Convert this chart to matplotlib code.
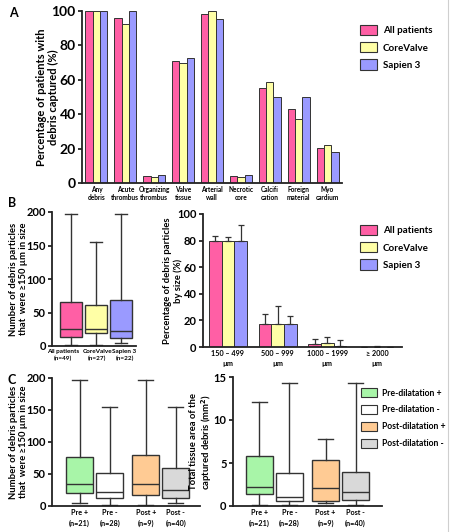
import matplotlib
matplotlib.use("Agg")
import matplotlib.pyplot as plt
import matplotlib.transforms as mtransforms
from matplotlib.patches import Patch
from matplotlib.lines import Line2D
import numpy as np

plt.rcParams['font.family'] = ['Lato', 'DejaVu Sans']
plt.rcParams['font.weight'] = 'bold'
plt.rcParams['axes.labelweight'] = 'bold'

# Panel A: debris type per valve group
groups = ['All patients', 'CoreValve', 'Sapien 3']
group_colors = ['#ff5fa5', '#ffffa6', '#9a9aff']
debris_types = ['Any\ndebris', 'Acute\nthrombus', 'Organizing\nthrombus', 'Valve\ntissue',
                'Arterial\nwall', 'Necrotic\ncore', 'Calcifi\ncation', 'Foreign\nmaterial',
                'Myo\ncardium']
pct_all = [100, 96, 4, 71, 98, 4, 55, 43, 20.5]
pct_cv = [100, 92.5, 3.5, 70, 100, 3.5, 59, 37, 22]
pct_s3 = [100, 100, 4.5, 72.5, 95.5, 4.5, 50, 50, 18]

# Panel B left: particles >=150 um per valve group (box stats)
b_labels = ['All patients\n(n=49)', 'CoreValve\n(n=27)', 'Sapien 3\n(n=22)']
b_low = [1, 1, 5]
b_q1 = [14, 20, 12]
b_med = [25, 26, 22]
b_q3 = [65, 61, 69]
b_high = [197, 155, 197]

# Panel B right: particle size distribution
size_bins = ['150 – 499\nµm', '500 – 999\nµm', '1000 – 1999\nµm', '≥ 2000\nµm']
size_all = [80, 17, 2.5, 0]
size_all_err = [3.5, 7.5, 3.5, 0]
size_cv = [80, 17, 3, 0.3]
size_cv_err = [3, 13.5, 4.5, 0.7]
size_s3 = [79.5, 17, 1, 0]
size_s3_err = [12, 6.5, 4.5, 0]

# Panel C: pre/post dilatation
dil_names = ['Pre-dilatation +', 'Pre-dilatation -', 'Post-dilatation +', 'Post-dilatation -']
dil_colors = ['#a8f5a8', '#ffffff', '#ffcb94', '#d9d9d9']
c_labels = ['Pre +\n(n=21)', 'Pre -\n(n=28)', 'Post +\n(n=9)', 'Post -\n(n=40)']
c_low = [5, 1, 1, 4]
c_q1 = [21, 12, 17, 12]
c_med = [34, 22, 34, 25]
c_q3 = [76, 51, 80, 60]
c_high = [197, 155, 197, 155]
area_low = [0.1, 0.1, 0.3, 0.1]
area_q1 = [1.4, 0.55, 0.55, 0.7]
area_med = [2.2, 1.0, 2.1, 1.6]
area_q3 = [5.8, 3.8, 5.3, 4.0]
area_high = [12.1, 14.3, 7.8, 14.3]

W, H = 450, 532
fig = plt.figure(figsize=(W / 100, H / 100), dpi=100)

EDGE = '#333333'


def px_axes(l, t, r, b):
    ax = fig.add_axes([l / W, 1 - b / H, (r - l) / W, (b - t) / H])
    ax.spines['top'].set_visible(False)
    ax.spines['right'].set_visible(False)
    for s in ('left', 'bottom'):
        ax.spines[s].set_linewidth(1.3)
        ax.spines[s].set_color('#222222')
    ax.tick_params(axis='x', length=0, pad=2)
    ax.tick_params(axis='y', length=3, width=1.1, pad=1.5)
    return ax


def boxes(ax, low, q1, med, q3, high, pos, colors, width):
    stats = [dict(whislo=a, q1=b, med=c, q3=d, whishi=e)
             for a, b, c, d, e in zip(low, q1, med, q3, high)]
    bp = ax.bxp(stats, positions=pos, widths=width, showfliers=False,
                patch_artist=True, capwidths=width * 0.55,
                boxprops=dict(edgecolor=EDGE, linewidth=1.0),
                medianprops=dict(color=EDGE, linewidth=1.0),
                whiskerprops=dict(color=EDGE, linewidth=1.0),
                capprops=dict(color=EDGE, linewidth=1.0))
    for patch, c in zip(bp['boxes'], colors):
        patch.set_facecolor(c)


# ---- A ----
axA = px_axes(82, 11, 342, 183)
x = np.arange(len(debris_types))
bw = 0.255
for i, (vals, c) in enumerate(zip([pct_all, pct_cv, pct_s3], group_colors)):
    axA.bar(x + (i - 1) * bw, vals, bw, color=c, edgecolor=EDGE, linewidth=0.7)
axA.set_xlim(-0.5, len(debris_types) - 0.5)
axA.set_ylim(0, 100)
axA.set_yticks([0, 20, 40, 60, 80, 100])
axA.set_xticks(x)
axA.set_xticklabels(debris_types, fontsize=4.7, linespacing=1.25)
axA.tick_params(axis='y', labelsize=10)
axA.set_ylabel('Percentage of patients with\ndebris captured (%)', fontsize=8,
               linespacing=1.1)
axA.yaxis.set_label_coords(-0.088, 0.5)
fig.legend([Patch(facecolor=c, edgecolor=EDGE, linewidth=0.8) for c in group_colors], groups,
           loc='upper left', bbox_to_anchor=(360 / W, 1 - 25 / H), frameon=False,
           fontsize=7, handlelength=1.75, handleheight=1.25, handletextpad=0.6,
           labelspacing=0.7, borderpad=0, borderaxespad=0)

# ---- B left ----
axB1 = px_axes(52, 212, 136, 346)
boxes(axB1, b_low, b_q1, b_med, b_q3, b_high, [1, 2, 3], group_colors, 0.9)
axB1.set_xlim(0.25, 3.6)
axB1.set_ylim(0, 200)
axB1.set_yticks([0, 50, 100, 150, 200])
axB1.set_xticks([1, 2, 3])
axB1.set_xticklabels(b_labels, fontsize=4.6, linespacing=1.5)
# labels in the reference sit slightly off the box centres
for lab, dx in zip(axB1.get_xticklabels(), [-8, 1.5, 3.5]):
    lab.set_transform(lab.get_transform() +
                      mtransforms.ScaledTranslation(dx / 100, 0, fig.dpi_scale_trans))
axB1.tick_params(axis='y', labelsize=8)
axB1.set_ylabel('Number of debris particles\nthat  were ≥150 µm in size', fontsize=6.8,
                linespacing=1.15)
axB1.yaxis.set_label_coords(-0.285, 0.5)

# ---- B right ----
axB2 = px_axes(203, 214, 402, 347)
xs = np.arange(len(size_bins))
bw2 = 0.255
for i, (vals, err, c) in enumerate(zip([size_all, size_cv, size_s3],
                                       [size_all_err, size_cv_err, size_s3_err],
                                       group_colors)):
    pos = xs + (i - 1) * bw2
    axB2.bar(pos, vals, bw2, color=c, edgecolor=EDGE, linewidth=0.7)
    axB2.errorbar(pos, vals, yerr=[np.zeros(len(vals)), err], fmt='none',
                  ecolor=EDGE, elinewidth=0.9, capsize=2, capthick=0.9)
axB2.set_xlim(-0.5, len(size_bins) - 0.5)
axB2.set_ylim(0, 100)
axB2.set_yticks([0, 20, 40, 60, 80, 100])
axB2.set_xticks(xs)
axB2.set_xticklabels(size_bins, fontsize=5.2, linespacing=1.6)
axB2.tick_params(axis='y', labelsize=8)
axB2.set_ylabel('Percentage of debris particles\nby size (%)', fontsize=6.8,
                linespacing=1.15)
axB2.yaxis.set_label_coords(-0.1, 0.5)
fig.legend([Patch(facecolor=c, edgecolor=EDGE, linewidth=0.8) for c in group_colors], groups,
           loc='upper left', bbox_to_anchor=(360 / W, 1 - 225 / H), frameon=False,
           fontsize=7, handlelength=1.75, handleheight=1.25, handletextpad=0.6,
           labelspacing=0.7, borderpad=0, borderaxespad=0)

# ---- C left ----
cpos = [0, 1, 2.2, 3.2]
axC1 = px_axes(52, 378, 200, 506)
boxes(axC1, c_low, c_q1, c_med, c_q3, c_high, cpos, dil_colors, 0.9)
axC1.set_xlim(-0.92, 4.0)
axC1.set_ylim(0, 200)
axC1.set_yticks([0, 50, 100, 150, 200])
axC1.set_xticks(cpos)
axC1.set_xticklabels(c_labels, fontsize=5.2, linespacing=1.6)
axC1.tick_params(axis='y', labelsize=8)
axC1.set_ylabel('Number of debris particles\nthat  were ≥150 µm in size', fontsize=6.8,
                linespacing=1.15)
axC1.yaxis.set_label_coords(-0.162, 0.5)

# ---- C right ----
axC2 = px_axes(233, 377, 382, 506)
boxes(axC2, area_low, area_q1, area_med, area_q3, area_high, cpos, dil_colors, 0.9)
axC2.set_xlim(-0.88, 4.08)
axC2.set_ylim(0, 15)
axC2.set_yticks([0, 5, 10, 15])
axC2.set_xticks(cpos)
axC2.set_xticklabels(c_labels, fontsize=5.2, linespacing=1.6)
axC2.tick_params(axis='y', labelsize=8)
axC2.set_ylabel('Total tissue area of the\ncaptured debris (mm$^\\mathbf{2}$)', fontsize=6.8,
                linespacing=1.15)
axC2.yaxis.set_label_coords(-0.125, 0.5)
fig.legend([Patch(facecolor=c, edgecolor=EDGE, linewidth=0.8) for c in dil_colors], dil_names,
           loc='upper left', bbox_to_anchor=(361 / W, 1 - 388 / H), frameon=False,
           fontsize=6.2, handlelength=1.8, handleheight=1.3, handletextpad=0.6,
           labelspacing=0.85, borderpad=0, borderaxespad=0)

# panel letters
for letter, (px, py) in zip('ABC', [(13, 13), (12, 203), (12, 380)]):
    fig.text(px / W, 1 - py / H, letter, fontsize=9, fontweight='bold', ha='center', va='center')

# thin frame line on right edge
fig.add_artist(Line2D([447.5 / W] * 2, [0, 1], color='#cfcfcf', linewidth=0.8))

fig.savefig('out.png', dpi=100)
